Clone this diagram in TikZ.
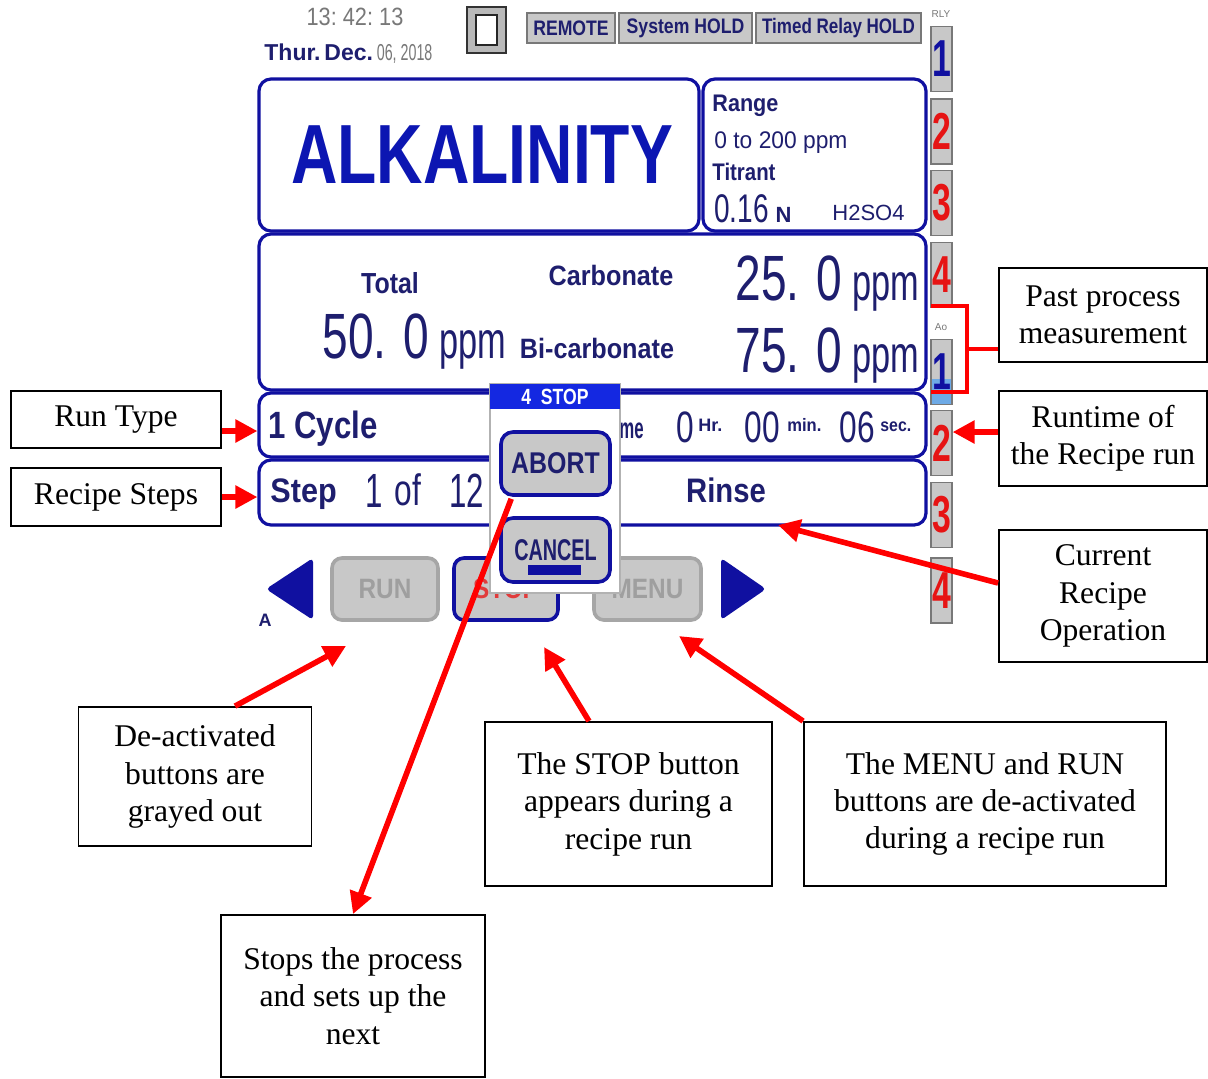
\documentclass[tikz,border=0pt]{standalone}
\usepackage{fontspec}
\setmainfont{Liberation Serif}
\newfontfamily\scrfont{Liberation Sans}
\usetikzlibrary{arrows.meta,positioning}
\newcommand\setfs[1]{\fontsize{#1}{#1}\selectfont}
\newcommand\nar[2][0.72]{\scalebox{#1}[1]{#2}}
\definecolor{scrblue}{RGB}{16,16,160}
\definecolor{navy}{RGB}{30,30,110}
\definecolor{alkblue}{RGB}{12,22,178}
\definecolor{dimgray}{RGB}{120,120,120}
\definecolor{btngray}{RGB}{200,200,200}
\definecolor{btnedge}{RGB}{120,120,120}
\definecolor{relayred}{RGB}{230,20,20}
\definecolor{stopred}{RGB}{225,60,60}
\definecolor{arrowred}{RGB}{255,0,0}
\definecolor{popblue}{RGB}{20,40,225}
\definecolor{aoblue}{RGB}{110,170,230}
\begin{document}
\begin{tikzpicture}[x=0.5pt,y=-0.5pt,
    callout/.style={draw=black,line width=0.9pt,align=center,inner sep=0pt,font=\fontsize{15.8}{18.7}\selectfont},
    panel/.style={draw=scrblue,line width=1.6pt,rounded corners=6pt,fill=white,inner sep=0pt},
    topbtn/.style={draw=btnedge,fill=btngray,line width=0.8pt,inner sep=0pt,minimum height=15pt,text=navy,font=\scrfont\bfseries\setfs{10.5}},
    relay/.style={draw=btnedge,fill=btngray,line width=0.6pt,inner sep=0pt,minimum width=10.5pt,minimum height=32.5pt,font=\scrfont\bfseries\setfs{26}},
    softkey/.style={draw=gray!70,fill=btngray,line width=1.8pt,rounded corners=5pt,minimum height=31pt,inner sep=0pt,text=gray!75,font=\scrfont\bfseries\setfs{14}},
    popkey/.style={draw=scrblue,fill=btngray,line width=1.8pt,rounded corners=6pt,minimum width=54.5pt,minimum height=31.5pt,inner sep=0pt,text=navy,font=\scrfont\bfseries\setfs{15}},
    scrbold/.style={inner sep=0pt,text=navy,font=\scrfont\bfseries\setfs{#1}},
    scrreg/.style={inner sep=0pt,text=navy,font=\scrfont\setfs{#1}},
    callarrow/.style={draw=arrowred,line width=2.8pt,-{Triangle[length=11pt,width=11pt]}},
    redline/.style={draw=arrowred,line width=2pt}]
\fill[white] (0,0) rectangle (1208,1078);
\useasboundingbox (0,0) rectangle (1208,1078);
% header
\node[scrreg=12.5,text=dimgray] (clock) at (355,17) {\nar[0.87]{13:\ 42:\ 13}};
\node[scrbold=11.5,anchor=west] (date) at (264,54) {Thur.\,Dec.\,\textcolor{dimgray}{\mdseries\nar[0.62]{06, 2018}}};
\draw[fill=gray!55,draw=gray!40!black,line width=0.8pt] (467,7) rectangle (506,53);
\draw[fill=white,draw=gray!30!black,line width=1pt] (476,15) rectangle (497,45);
\node[topbtn,minimum width=44pt] (remote) at (571,28) {\nar[0.84]{REMOTE}};
\node[topbtn,minimum width=66.5pt] (syshold) at (685.5,28) {\nar[0.84]{System HOLD}};
\node[topbtn,minimum width=82.5pt] (relayhold) at (838.5,28) {\nar[0.81]{Timed Relay HOLD}};
\node[scrreg=5,text=dimgray] (rlylabel) at (941,14) {RLY};
% relay column
\foreach \n/\yc/\d/\c in {1/59/1/scrblue,2/131.5/2/relayred,3/203/3/relayred,4/275/4/relayred,6/443/2/relayred,7/515/3/relayred,8/590.5/4/relayred}
    \node[relay,text=\c] (rly\n) at (941.5,\yc) {\nar[0.65]{\d}};
\node[scrreg=5,text=dimgray] (aolabel) at (941,327) {Ao};
\node[relay,text=scrblue,path picture={\fill[aoblue] (path picture bounding box.south west) rectangle ([yshift=13pt]path picture bounding box.south east);}] (rly5) at (941.5,372) {\nar[0.65]{1}};
% panels
\node[panel,minimum width=220pt,minimum height=76pt] (alkpanel) at (479,155) {};
\node[panel,minimum width=111.5pt,minimum height=76pt] (rangepanel) at (814.5,155) {};
\node[panel,minimum width=333.5pt,minimum height=78pt] (measpanel) at (592.5,312) {};
\node[panel,minimum width=333.5pt,minimum height=32pt] (runrow) at (592.5,425) {};
\node[panel,minimum width=333.5pt,minimum height=32.5pt] (steprow) at (592.5,492.5) {};
\node[scrbold=42,text=alkblue] (alk) at (482,155) {\nar[0.765]{ALKALINITY}};
\node[scrbold=12,anchor=base west] (range) at (712,111) {\nar[0.9]{Range}};
\node[scrreg=12,anchor=base west] (rangeval) at (714,148) {\nar[0.95]{0 to 200 ppm}};
\node[scrbold=12,anchor=base west] (titrant) at (712,180) {\nar[0.85]{Titrant}};
\node[scrreg=20,anchor=base west] (normal) at (714,222) {\nar[0.7]{0.16}\,{\bfseries\setfs{11}N}};
\node[scrreg=11,anchor=base west] (acid) at (832,220) {H2SO4};
\node[scrbold=14.5,anchor=base] (total) at (390,293) {\nar[0.86]{Total}};
\node[scrbold=14,anchor=base] (carb) at (611,285) {\nar[0.9]{Carbonate}};
\node[scrbold=14,anchor=base] (bicarb) at (597,358) {\nar[0.9]{Bi-carbonate}};
\node[scrreg=32,anchor=base west] (totalval) at (322,358) {\nar{50. 0}\hspace{5pt}{\setfs{26}\nar[0.66]{ppm}}};
\node[scrreg=32,anchor=base west] (carbval) at (735,300) {\nar{25. 0}\hspace{5pt}{\setfs{26}\nar[0.66]{ppm}}};
\node[scrreg=32,anchor=base west] (bicarbval) at (735,372) {\nar{75. 0}\hspace{5pt}{\setfs{26}\nar[0.66]{ppm}}};
\node[scrbold=19,anchor=base west] (cycle) at (268,438) {\nar[0.82]{1 Cycle}};
\node[scrbold=14.5,anchor=base east] (runtimelbl) at (644,438) {\nar[0.58]{Run Time}};
\node[scrreg=22,anchor=base west] (hrs) at (676,442) {\nar{0}};
\node[scrbold=9,anchor=base west] (hrlbl) at (698,431) {Hr.};
\node[scrreg=22,anchor=base west] (mins) at (744,442) {\nar{00}};
\node[scrbold=9,anchor=base west] (minlbl) at (787,431) {\nar[0.92]{min.}};
\node[scrreg=22,anchor=base west] (secs) at (839,442) {\nar{06}};
\node[scrbold=9,anchor=base west] (seclbl) at (880,431) {\nar[0.88]{sec.}};
\node[scrbold=17,anchor=base west] (step) at (270,502) {\nar[0.9]{Step}};
\node[scrreg=24,anchor=base west] (stepnum) at (365,507) {\nar[0.65]{1}};
\node[scrreg=22,anchor=base west] (stepof) at (394,505) {\nar{of}};
\node[scrreg=24,anchor=base west] (steptot) at (449,507) {\nar[0.65]{12}};
\node[scrbold=17,anchor=base] (rinse) at (726,502) {\nar[0.86]{Rinse}};
% soft keys
\fill[scrblue,rounded corners=2pt] (313,558) -- (313,620) -- (266,589) -- cycle;
\node[scrbold=9] (akey) at (265,620) {A};
\node[softkey,minimum width=53pt] (runkey) at (385,589) {\nar[0.87]{RUN}};
\node[softkey,draw=scrblue,minimum width=52pt,text=stopred] (stopkey) at (506,589) {\nar[0.87]{STOP}};
\node[softkey,minimum width=53.5pt] (menukey) at (647.5,589) {\nar[0.87]{MENU}};
\fill[scrblue,rounded corners=2pt] (721,558) -- (721,620) -- (766,589) -- cycle;
% popup
\node[draw=gray!60,line width=0.8pt,fill=white,minimum width=65pt,minimum height=104.5pt,inner sep=0pt] (popup) at (555,488.5) {};
\node[fill=popblue,minimum width=65pt,minimum height=12.5pt,inner sep=0pt,text=white,font=\scrfont\bfseries\setfs{11}] (pophead) at (555,396.5) {\nar[0.8]{4\ \ STOP}};
\node[popkey] (abort) at (555.5,463.5) {\nar[0.83]{ABORT}};
\node[popkey,minimum height=32pt] (cancel) at (555.5,550) {\nar[0.66]{CANCEL}};
\fill[scrblue] (528,565) rectangle (581,575);
% callouts
\node[callout,minimum width=105pt,minimum height=28.5pt] (runtype) at (116,419.5) {Run Type};
\node[callout,minimum width=105pt,minimum height=29pt] (recipesteps) at (116,497) {Recipe Steps};
\node[callout,minimum width=104pt,minimum height=47pt] (pastmeas) at (1103,315) {Past process\\measurement};
\node[callout,minimum width=104pt,minimum height=47.5pt] (runtime) at (1103,438.5) {Runtime of\\the Recipe run};
\node[callout,minimum width=104pt,minimum height=66pt] (curop) at (1103,596) {Current\\Recipe\\Operation};
\node[callout,minimum width=116.5pt,minimum height=69.5pt] (deact) at (195,776.5) {De-activated\\buttons are\\grayed out};
\node[callout,minimum width=143.5pt,minimum height=82pt] (stopbtn) at (628.5,804) {The STOP button\\appears during a\\recipe run};
\node[callout,minimum width=181pt,minimum height=82pt] (menurun) at (985,804) {The MENU and RUN\\buttons are de-activated\\during a recipe run};
\node[callout,minimum width=132pt,minimum height=81pt] (stopsproc) at (353,996) {Stops the process\\and sets up the\\next};
% arrows
\coordinate (deacttip) at (346,646);
\coordinate (stoptip) at (544,647);
\coordinate (menutip) at (679,636);
\coordinate (rinsetip) at (778,525);
\coordinate (brk) at (967,349);
\draw[redline] (931,306) -- (967,306) -- (967,392) -- (931,392);
\draw[redline] (brk) -- (brk -| pastmeas.west);
\draw[callarrow] ([yshift=-5.75pt]runtype.east) -- ([yshift=-5.75pt]runtype.east -| runrow.west);
\draw[callarrow] (recipesteps.east) -- (recipesteps.east -| steprow.west);
\draw[callarrow] ([yshift=3.25pt]runtime.west) -- ([yshift=3.25pt]runtime.west -| rly6.east);
\draw[callarrow] ([yshift=6.5pt]curop.west) -- (rinsetip);
\draw[callarrow] ([xshift=20pt]deact.north) -- (deacttip);
\draw[callarrow] ([xshift=-19.75pt]stopbtn.north) -- (stoptip);
\draw[callarrow] (menurun.north west) -- (menutip);
\draw[callarrow] ([xshift=6pt,yshift=-1pt]abort.south west) -- (stopsproc.north);
\end{tikzpicture}
\end{document}
